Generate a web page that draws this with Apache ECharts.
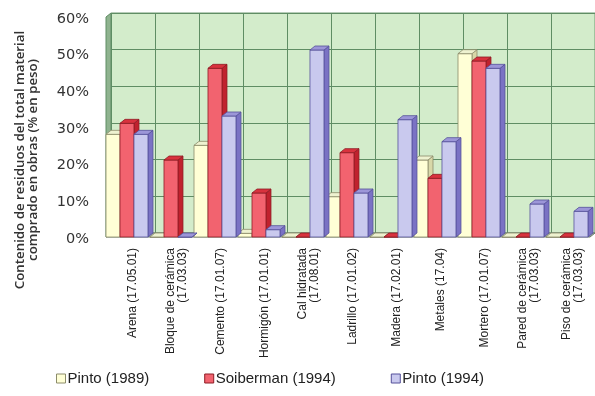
<!DOCTYPE html>
<html>
<head>
<meta charset="utf-8">
<script src="https://cdn.jsdelivr.net/npm/echarts@6/dist/echarts.min.js"></script>
<style>
  html, body { margin: 0; padding: 0; background: #fff; }
  #chart { width: 595px; height: 396px; }
</style>
</head>
<body>
<div id="chart"></div>
<script>
// Categories (material and waste code)
const categories = [
  'Arena (17.05.01)',
  'Bloque de cerámica\n(17.03.03)',
  'Cemento (17.01.07)',
  'Hormigón (17.01.01)',
  'Cal hidratada\n(17.08.01)',
  'Ladrillo (17.01.02)',
  'Madera (17.02.01)',
  'Metales (17.04)',
  'Mortero (17.01.07)',
  'Pared de cerámica\n(17.03.03)',
  'Piso de cerámica\n(17.03.03)'
];

// Share of purchased material that ends up as waste (% by weight)
const pinto1989     = [28, 0, 25, 1, 0, 11, 0, 21, 50, 0, 0];
const soiberman1994 = [31, 21, 46, 12, 0, 23, 0, 16, 48, 0, 0];
const pinto1994     = [28, 0, 33, 2, 51, 12, 32, 26, 46, 9, 7];

const seriesNames = ['Pinto (1989)', 'Soiberman (1994)', 'Pinto (1994)'];
const yTicks = { min: 0, max: 60, interval: 10 };

// Face / side / top shades for each series
const palette = [
  { face: '#FFFFD6', side: '#D8D8A8', top: '#EEF2D0', line: '#8C8C6A' },
  { face: '#F2636F', side: '#C0222E', top: '#D8323E', line: '#8E1C24' },
  { face: '#C9C9EE', side: '#7A72C4', top: '#9C96D8', line: '#55509A' }
];

const DX = 5, DY = 4;   // depth offset of the pseudo-3D bars

function makeRender(si) {
  return function (params, api) {
    const cat = api.value(0), v = api.value(1);
    const base = api.coord([cat, 0]);
    const top = api.coord([cat, v]);
    const band = api.size([1, 0])[0];
    const w = band * 0.318;
    const xl = base[0] - band / 2 - DX + si * w;
    const xr = xl + w;
    const yt = top[1] + DY;
    const yb = base[1] + DY;
    const c = palette[si];
    return {
      type: 'group',
      children: [
        { type: 'polygon', shape: { points: [[xr, yt], [xr + DX, yt - DY], [xr + DX, yb - DY], [xr, yb]] },
          style: { fill: c.side, stroke: c.line, lineWidth: 0.8 } },
        { type: 'rect', shape: { x: xl, y: yt, width: w, height: yb - yt },
          style: { fill: c.face, stroke: c.line, lineWidth: 0.8 } },
        { type: 'polygon', shape: { points: [[xl, yt], [xl + DX, yt - DY], [xr + DX, yt - DY], [xr, yt]] },
          style: { fill: c.top, stroke: c.line, lineWidth: 0.8 } }
      ]
    };
  };
}

const dataSets = [pinto1989, soiberman1994, pinto1994];

const chart = echarts.init(document.getElementById('chart'), null, { renderer: 'canvas' });

const option = {
  animation: false,
  backgroundColor: '#ffffff',
  grid: {
    left: 111, right: 0, top: 13, bottom: 163,
    outerBoundsMode: 'none',
    containLabel: false,
    show: true, backgroundColor: '#D3ECCB', borderColor: '#6E9A72', borderWidth: 1
  },
  legend: {
    bottom: 5, left: 51,
    itemWidth: 9, itemHeight: 9, itemGap: 55,
    icon: 'rect',
    textStyle: { fontFamily: 'Liberation Sans', fontSize: 15, color: '#222', padding: [0, 0, 0, -3] },
    data: seriesNames.map((n, i) => ({ name: n, itemStyle: { color: palette[i].face, borderColor: palette[i].line, borderWidth: 1 } }))
  },
  xAxis: {
    type: 'category',
    data: categories,
    axisLine: { show: false },
    axisTick: { show: false },
    splitLine: { show: true, lineStyle: { color: '#5F8D64', width: 1 } },
    axisLabel: {
      interval: 0, rotate: 90, margin: 15,
      fontFamily: 'Liberation Sans', fontSize: 12, color: '#222', lineHeight: 12
    }
  },
  yAxis: {
    type: 'value',
    min: yTicks.min, max: yTicks.max, interval: yTicks.interval,
    axisLine: { show: false },
    axisTick: { show: false },
    splitLine: { show: true, lineStyle: { color: '#5F8D64', width: 1 } },
    axisLabel: {
      formatter: '{value}%', margin: 22,
      fontFamily: 'DejaVu Sans', fontSize: 14.5, color: '#333',
      verticalAlign: 'top', lineHeight: 12
    },
    name: 'Contenido de residuos del total material\ncomprado en obras (% en peso)',
    nameLocation: 'middle',
    nameRotate: 90,
    nameGap: 71,
    nameTextStyle: {
      fontFamily: 'Open Sans', fontSize: 13.3, fontWeight: 600, color: '#333',
      lineHeight: 13, align: 'center', padding: [0, 74, 0, 0]
    }
  },
  series: dataSets.map((arr, si) => ({
    type: 'custom',
    name: seriesNames[si],
    renderItem: makeRender(si),
    itemStyle: { color: palette[si].face },
    encode: { x: 0, y: 1 },
    data: arr.map((v, i) => [i, v]),
    z: 3
  }))
};

chart.setOption(option);

// Side wall and floor of the plot box, placed from the axis scales
function drawWalls() {
  const p0 = chart.convertToPixel({ gridIndex: 0 }, [0, yTicks.min]);
  const pTop = chart.convertToPixel({ gridIndex: 0 }, [0, yTicks.max]);
  const band = chart.convertToPixel({ gridIndex: 0 }, [1, 0])[0] - p0[0];
  const xL = p0[0] - band / 2;
  const xR = chart.convertToPixel({ gridIndex: 0 }, [categories.length - 1, 0])[0] + band / 2;
  chart.setOption({
    graphic: [
      { type: 'polygon', z: 1, silent: true,
        shape: { points: [[xL - DX, pTop[1] + DY], [xL, pTop[1]], [xL, p0[1]], [xL - DX, p0[1] + DY]] },
        style: { fill: '#8FB38F', stroke: '#5F8D64', lineWidth: 1 } },
      { type: 'polygon', z: 1, silent: true,
        shape: { points: [[xL - DX, p0[1] + DY], [xL, p0[1]], [xR, p0[1]], [xR - DX, p0[1] + DY]] },
        style: { fill: '#A8B8A8', stroke: '#6A7A6A', lineWidth: 1 } }
    ]
  });
}
drawWalls();
</script>
</body>
</html>
